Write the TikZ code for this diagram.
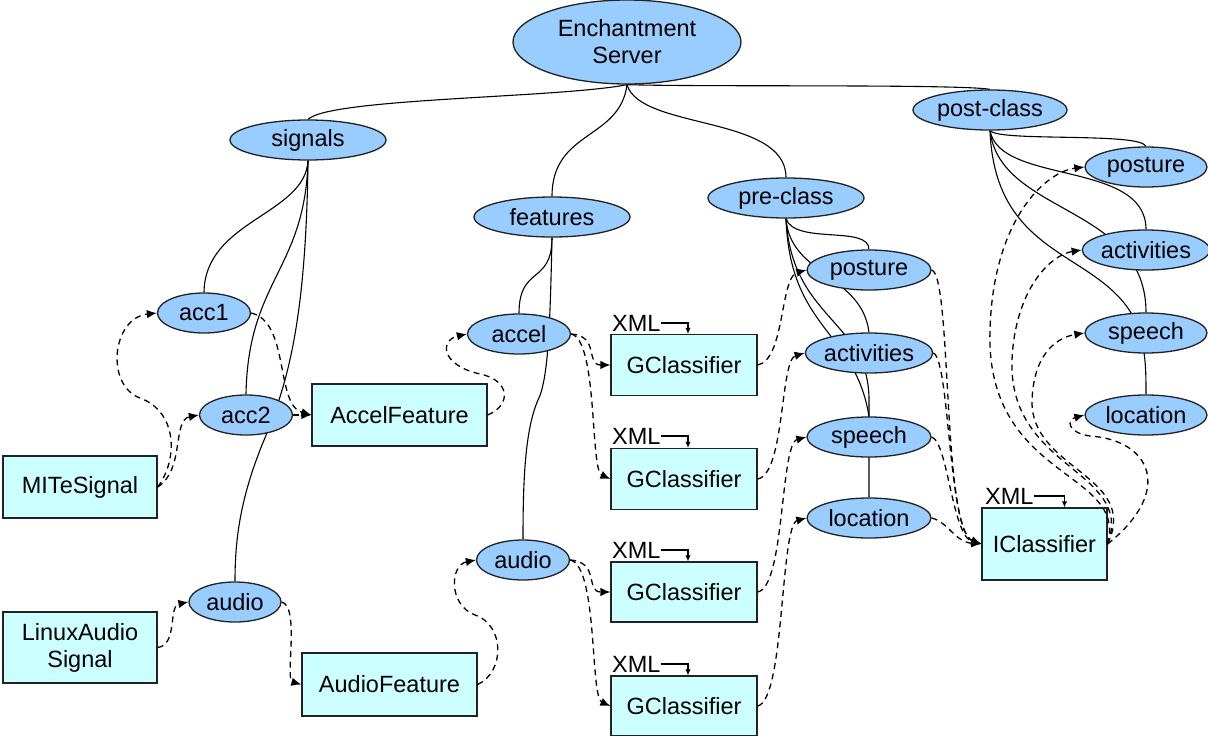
\documentclass[tikz,border=0pt]{standalone}
\usepackage{fontspec}
\setmainfont{Liberation Sans}
\usetikzlibrary{shapes.geometric,arrows.meta,backgrounds}
\definecolor{ellblue}{HTML}{99CCFF}
\definecolor{boxcyan}{HTML}{CCFFFF}
\definecolor{bord}{HTML}{222222}
\tikzset{
  ell/.style={ellipse, draw=bord, fill=ellblue, line width=1.3pt, inner sep=0pt, minimum height=40pt, font=\fontsize{23.5}{27}\selectfont},
  box/.style={rectangle, draw=bord, fill=boxcyan, line width=1.3pt, inner sep=0pt, align=center, font=\fontsize{23.5}{27}\selectfont},
  tree/.style={line width=1.1pt, draw=black},
  flow/.style={line width=1.3pt, dash pattern=on 6pt off 4.5pt, -{Latex[length=10pt,width=8.5pt]}},
  xmllab/.style={inner sep=0pt, font=\fontsize{23.5}{27}\selectfont},
  xmlarrow/.style={line width=1.2pt, -{Latex[length=6pt,width=5.5pt]}}
}
\begin{document}
\begin{tikzpicture}[x=1pt,y=-1pt]
\path[use as bounding box] (0,0) rectangle (1208,736);

% ---- nodes
\node[ell, minimum width=228pt, minimum height=84pt, align=center] (es) at (627,42) {Enchantment\\Server};
\node[ell, minimum width=156pt] (signals) at (308,140) {signals};
\node[ell, minimum width=156pt] (features) at (552,217) {features};
\node[ell, minimum width=156pt] (pre) at (786,198) {pre-class};
\node[ell, minimum width=154pt] (post) at (990,110) {post-class};

\node[ell, minimum width=93pt] (acc1) at (204,313) {acc1};
\node[ell, minimum width=93pt] (acc2) at (246,415) {acc2};
\node[ell, minimum width=92pt] (audio) at (235,602) {audio};
\node[ell, minimum width=103pt] (accel) at (519,334) {accel};
\node[ell, minimum width=93pt] (audiob) at (523,560) {audio};

\node[ell, minimum width=124pt] (pposture) at (869,270) {posture};
\node[ell, minimum width=124pt] (pact) at (869,353) {activities};
\node[ell, minimum width=124pt] (pspeech) at (869,437) {speech};
\node[ell, minimum width=124pt] (plocation) at (869,518) {location};

\node[ell, minimum width=122pt] (qposture) at (1146,167) {posture};
\node[ell, minimum width=122pt] (qact) at (1146,250) {activities};
\node[ell, minimum width=122pt] (qspeech) at (1146,333) {speech};
\node[ell, minimum width=122pt] (qloc) at (1146,415) {location};

\node[box, minimum width=154pt, minimum height=62pt] (mite) at (80,487) {MITeSignal};
\node[box, minimum width=154pt, minimum height=71pt] (linux) at (80,647.5) {LinuxAudio\\Signal};
\node[box, minimum width=175pt, minimum height=62pt] (accelf) at (399.5,415) {AccelFeature};
\node[box, minimum width=175pt, minimum height=63pt] (audiof) at (389.5,684.5) {AudioFeature};

\node[box, minimum width=146pt, minimum height=61pt] (g1) at (684,365) {GClassifier};
\node[box, minimum width=146pt, minimum height=61pt] (g2) at (684,479) {GClassifier};
\node[box, minimum width=146pt, minimum height=60pt] (g3) at (684,592) {GClassifier};
\node[box, minimum width=146pt, minimum height=60pt] (g4) at (684,706) {GClassifier};
\node[box, minimum width=125pt, minimum height=72pt] (icl) at (1044.5,544) {IClassifier};

\node[xmllab, anchor=base west] (x1) at (612,331) {XML};
\node[xmllab, anchor=base west] (x2) at (612,444) {XML};
\node[xmllab, anchor=base west] (x3) at (612,558) {XML};
\node[xmllab, anchor=base west] (x4) at (612,672) {XML};
\node[xmllab, anchor=base west] (x5) at (985,504) {XML};

\draw[xmlarrow] (x1.east) -| ([xshift=4pt]g1.north);
\draw[xmlarrow] (x2.east) -| ([xshift=4pt]g2.north);
\draw[xmlarrow] (x3.east) -| ([xshift=4pt]g3.north);
\draw[xmlarrow] (x4.east) -| ([xshift=4pt]g4.north);
\draw[xmlarrow] (x5.east) -| ([xshift=20pt]icl.north);

% ---- edges behind nodes
\begin{pgfonlayer}{background}
\fill[white] (0,0) rectangle (1208,736);
\draw[tree] (es.south) .. controls (560,98) and (330,98) .. (signals.north);
\draw[tree] (es.south) .. controls (620,140) and (552,130) .. (features.north);
\draw[tree] (es.south) .. controls (640,130) and (786,115) .. (pre.north);
\draw[tree] (es.south) .. controls (700,87) and (960,84) .. (post.north);

\draw[tree] (signals.south) .. controls (305,215) and (205,220) .. (acc1.north);
\draw[tree] (signals.south) .. controls (305,270) and (248,280) .. (acc2.north);
\draw[tree] (signals.south) .. controls (306,330) and (285,390) .. (262,445) .. controls (240,500) and (235,540) .. (audio.north);

\draw[tree] (features.south) .. controls (552,285) and (519,265) .. (accel.north);
\draw[tree] (features.south) .. controls (550,330) and (548,380) .. (538,400) .. controls (525,430) and (523,480) .. (audiob.north);

\draw[tree] (pre.south) .. controls (795,245) and (869,225) .. (pposture.north);
\draw[tree] (pre.south) .. controls (790,275) and (862,275) .. (pact.north);
\draw[tree] (pre.south) .. controls (790,330) and (855,330) .. (pspeech.north);
\draw[tree] (pre.south) .. controls (792,320) and (869,320) .. (869,400) -- (plocation.north);

\draw[tree] (post.south) .. controls (1000,142) and (1140,132) .. (qposture.north);
\draw[tree] (post.south) .. controls (1000,185) and (1146,160) .. (qact.north);
\draw[tree] (post.south) .. controls (1000,215) and (1146,205) .. (qspeech.north);
\draw[tree] (post.south) .. controls (995,260) and (1100,250) .. (1135,320) .. controls (1146,345) and (1146,370) .. (qloc.north);
\end{pgfonlayer}

% ---- data flow
\draw[flow] (mite.east) .. controls (178,460) and (178,412) .. (140,398) .. controls (105,385) and (112,318) .. (acc1.west);
\draw[flow] (mite.east) .. controls (185,470) and (172,420) .. (acc2.west);
\draw[flow] (acc1.east) .. controls (290,322) and (275,405) .. (accelf.west);
\draw[flow] (acc2.east) -- (accelf.west);
\draw[flow] (accelf.east) .. controls (512,405) and (510,380) .. (480,374) .. controls (440,365) and (440,340) .. (accel.west);
\draw[flow] (accel.east) .. controls (600,336) and (585,365) .. (g1.west);
\draw[flow] (accel.east) .. controls (598,340) and (590,470) .. (g2.west);
\draw[flow] (audiob.east) .. controls (600,562) and (585,592) .. (g3.west);
\draw[flow] (audiob.east) .. controls (598,566) and (590,697) .. (g4.west);
\draw[flow] (linux.east) .. controls (178,645) and (168,606) .. (audio.west);
\draw[flow] (audio.east) .. controls (300,606) and (285,680) .. (audiof.west);
\draw[flow] (audiof.east) .. controls (505,672) and (505,625) .. (475,615) .. controls (448,605) and (450,565) .. (audiob.west);

\draw[flow] (g1.east) .. controls (785,360) and (780,277) .. (pposture.west);
\draw[flow] (g2.east) .. controls (785,474) and (780,360) .. (pact.west);
\draw[flow] (g3.east) .. controls (785,587) and (780,444) .. (pspeech.west);
\draw[flow] (g4.east) .. controls (785,700) and (780,525) .. (plocation.west);

\draw[flow] (pposture.east) .. controls (952,275) and (942,530) .. (icl.west);
\draw[flow] (pact.east) .. controls (950,360) and (948,532) .. (icl.west);
\draw[flow] (pspeech.east) .. controls (948,442) and (952,536) .. (icl.west);
\draw[flow] (plocation.east) .. controls (948,522) and (955,542) .. (icl.west);

\draw[flow] (icl.east) .. controls (1128,470) and (985,480) .. (990,330) .. controls (993,220) and (1045,172) .. (qposture.west);
\draw[flow] (icl.east) .. controls (1135,470) and (1008,470) .. (1012,360) .. controls (1015,290) and (1050,255) .. (qact.west);
\draw[flow] (icl.east) .. controls (1140,475) and (1030,470) .. (1032,400) .. controls (1034,350) and (1060,337) .. (qspeech.west);
\draw[flow] (icl.east) .. controls (1175,490) and (1150,440) .. (1090,436) .. controls (1068,433) and (1066,420) .. (qloc.west);
\end{tikzpicture}
\end{document}
